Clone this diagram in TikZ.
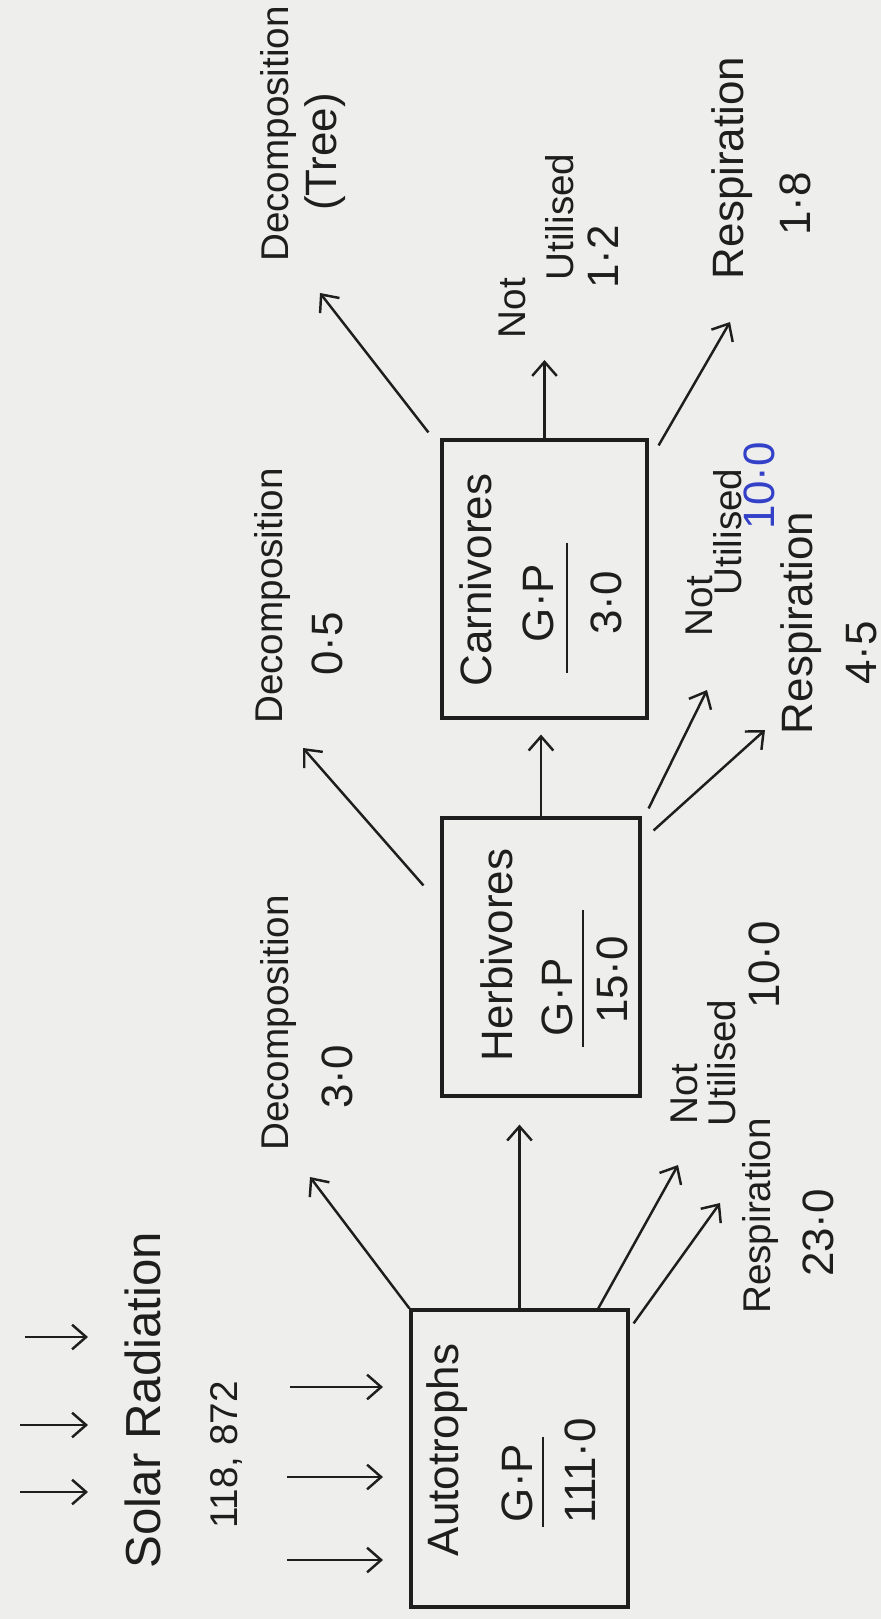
\documentclass[tikz,border=0pt]{standalone}
\usepackage{fontspec}
\setmainfont{Liberation Sans}
\usetikzlibrary{arrows.meta}
\definecolor{paper}{HTML}{EEEEEC}
\definecolor{ink}{HTML}{1E1E1E}
\definecolor{pen}{HTML}{3340C8}

\begin{document}
\begin{tikzpicture}[x=0.1mm, y=-0.1mm,
	box/.style={draw=ink, line width=0.9pt, inner sep=0pt},
	lbl/.style={rotate=90, inner sep=0pt, text=ink, font=\fontsize{12.5}{14}\selectfont},
	small/.style={lbl, font=\fontsize{11}{13}\selectfont},
	big/.style={lbl, font=\fontsize{14}{16}\selectfont},
	flow/.style={draw=ink, line width=0.7pt, -{Straight Barb[length=4pt, width=7pt]}},
	bar/.style={draw=ink, line width=0.7pt}]

	\fill[paper] (0,0) rectangle (881,1619);
	\useasboundingbox (0,0) rectangle (881,1619);

	\node[box, minimum width=21.7mm, minimum height=29.7mm] (auto) at (519.5,1458.5) {};
	\node[box, minimum width=19.8mm, minimum height=27.8mm] (herb) at (541,957) {};
	\node[box, minimum width=20.5mm, minimum height=27.8mm] (carn) at (544.5,579) {};

	\coordinate (decAtip) at (310,1177);
	\coordinate (autoNottip) at (678,1165);
	\coordinate (autoResptip) at (720,1203);
	\coordinate (decBtip) at (303,748);
	\coordinate (herbNottip) at (707,690);
	\coordinate (herbResptip) at (765,730);
	\coordinate (decCtip) at (320,293);
	\coordinate (carnNottip) at (544.5,360);
	\coordinate (carnResptip) at (730,322);

	\node[big] (solar) at (143,1400) {Solar Radiation};
	\node[small] (input) at (226,1455) {118, 872};

	\node[lbl] (autoname) at (447,1450) {Autotrophs};
	\node[lbl] (autogp) at (517,1483) {G·P};
	\node[lbl] (autoval) at (580,1471) {111·0};
	\draw[bar] (543,1437) -- (543,1527);

	\node[lbl] (herbname) at (497,955) {Herbivores};
	\node[lbl] (herbgp) at (557,997) {G·P};
	\node[lbl] (herbval) at (612,980) {15·0};
	\draw[bar] (583,910) -- (583,1047);

	\node[lbl] (carnname) at (476,580) {Carnivores};
	\node[lbl] (carngp) at (538,603) {G·P};
	\node[lbl] (carnval) at (606,603) {3·0};
	\draw[bar] (567,543) -- (567,673);

	\node[small] (decA) at (278,1023) {Decomposition};
	\node[lbl] (decAval) at (337,1077) {3·0};
	\node[small] (decB) at (272,596) {Decomposition};
	\node[lbl] (decBval) at (327,644) {0·5};
	\node[small] (decC) at (278,134) {Decomposition};
	\node[lbl] (decCval) at (325,152) {(Tree)};

	\node[small] (autoNot) at (684,1094) {Not};
	\node[small] (autoUtil) at (722,1063) {Utilised};
	\node[lbl] (autoUtilval) at (764,965) {10·0};
	\node[small] (autoResp) at (760,1216) {Respiration};
	\node[lbl] (autoRespval) at (818,1233) {23·0};

	\node[small] (herbNot) at (699,606) {Not};
	\node[small] (herbUtil) at (728,532) {Utilised};
	\node[lbl, text=pen] (herbUtilval) at (759,486) {10·0};
	\node[lbl] (herbResp) at (801,623) {Respiration};
	\node[lbl] (herbRespval) at (862,653) {4·5};

	\node[small] (carnNot) at (512,308) {Not};
	\node[small] (carnUtil) at (560,217) {Utilised};
	\node[lbl] (carnUtilval) at (603,257) {1·2};
	\node[lbl] (carnResp) at (732,168) {Respiration};
	\node[lbl] (carnRespval) at (795,204) {1·8};

	\foreach \y/\s in {1337/25, 1425/20, 1492/20}
		\draw[flow] (\s,\y) -- (88,\y);
	\foreach \y/\s in {1387/290, 1477/287, 1560/287}
		\draw[flow] (\s,\y) -- (383,\y);

	\draw[flow] (auto.north west) -- (decAtip);
	\draw[flow, shorten >=2.7mm] (auto.north) -- (auto.north |- herb.south);
	\draw[flow] ([xshift=-3.3mm, yshift=-0.3mm]auto.north east) -- (autoNottip);
	\draw[flow] ([xshift=0.4mm, yshift=-1.5mm]auto.north east) -- (autoResptip);

	\draw[flow] ([xshift=-1.7mm, yshift=-6.9mm]herb.north west) -- (decBtip);
	\draw[flow, shorten >=1.5mm] (herb.north) -- (herb.north |- carn.south);
	\draw[flow] ([xshift=0.7mm, yshift=0.8mm]herb.north east) -- (herbNottip);
	\draw[flow] ([xshift=1.2mm, yshift=-1.4mm]herb.north east) -- (herbResptip);

	\draw[flow] ([xshift=-1.2mm, yshift=0.6mm]carn.north west) -- (decCtip);
	\draw[flow] (carn.north) -- (carnNottip);
	\draw[flow] ([xshift=1mm, yshift=-0.7mm]carn.north east) -- (carnResptip);
\end{tikzpicture}
\end{document}
